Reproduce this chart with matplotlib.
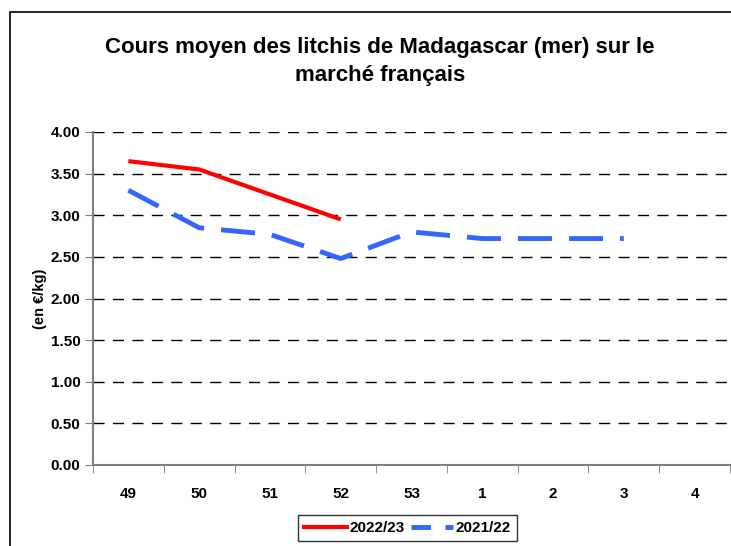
import matplotlib
matplotlib.use("Agg")
import matplotlib.pyplot as plt
from matplotlib.patches import Rectangle
from matplotlib.lines import Line2D

plt.rcParams['font.family'] = ['Liberation Sans', 'DejaVu Sans']

categories = ["49", "50", "51", "52", "53", "1", "2", "3", "4"]
s2022 = [3.65, 3.55, 3.25, 2.95]
s2021 = [3.30, 2.85, 2.77, 2.48, 2.80, 2.72, 2.72, 2.72]
yticks = [0.0, 0.5, 1.0, 1.5, 2.0, 2.5, 3.0, 3.5, 4.0]

fig = plt.figure(figsize=(7.31, 5.46), dpi=100)
ax = fig.add_axes([93/731, 81/546, 637/731, 333/546])

x = list(range(len(categories)))
ax.plot(x[:len(s2022)], s2022, color='#ff0000', lw=3, solid_capstyle='butt', label='2022/23', zorder=3)
ax.plot(x[:len(s2021)], s2021, color='#3366ff', lw=3.5, dashes=(7, 3.5), label='2021/22', zorder=3)

ax.set_xlim(-0.5, len(categories) - 0.5)
ax.set_ylim(0, 4)
ax.set_yticks(yticks)
ax.set_yticklabels([f"{v:.2f}" for v in yticks], fontsize=11, fontweight='bold')
ax.set_xticks(x)
ax.set_xticklabels(categories, fontsize=11, fontweight='bold')
ax.tick_params(axis='x', length=0, pad=16)
ax.set_xticks([i - 0.5 for i in range(len(categories) + 1)], minor=True)
ax.tick_params(axis='x', which='minor', length=6, color='#808080', direction='out')
ax.tick_params(axis='y', length=6, color='#808080', direction='out', pad=3)

for v in yticks[1:]:
    ax.axhline(v, color='black', lw=1, dashes=(8, 6), zorder=1)

for s in ['top', 'right']:
    ax.spines[s].set_visible(False)
for s in ['left', 'bottom']:
    ax.spines[s].set_color('#808080')
    ax.spines[s].set_linewidth(1.5)

ax.set_ylabel("(en €/kg)", fontsize=10.5, fontweight='bold', labelpad=3)

fig.text(380/731, 1 - 48/546, "Cours moyen des litchis de Madagascar (mer) sur le",
         ha='center', va='center', fontsize=16, fontweight='bold')
fig.text(380/731, 1 - 76/546, "marché français",
         ha='center', va='center', fontsize=16, fontweight='bold')

fig.patches.append(Rectangle((10/731, -0.1), 1.2, 1 - 12/546 + 0.1, transform=fig.transFigure,
                             fill=False, edgecolor='black', lw=1.2))

leg = fig.legend(handles=[Line2D([], [], color='#ff0000', lw=3),
                          Line2D([], [], color='#3366ff', lw=3.5, dashes=(4, 3))],
                 labels=['2022/23', '2021/22'],
                 loc='upper left', bbox_to_anchor=(298/731, 1 - 515/546),
                 ncol=2, frameon=True, fancybox=False, edgecolor='black',
                 prop={'weight': 'bold', 'size': 11}, handlelength=2.8,
                 handletextpad=0.15, columnspacing=0.4, borderpad=0.4, borderaxespad=0)
leg.get_frame().set_linewidth(1)

fig.savefig("out.png", dpi=100)
